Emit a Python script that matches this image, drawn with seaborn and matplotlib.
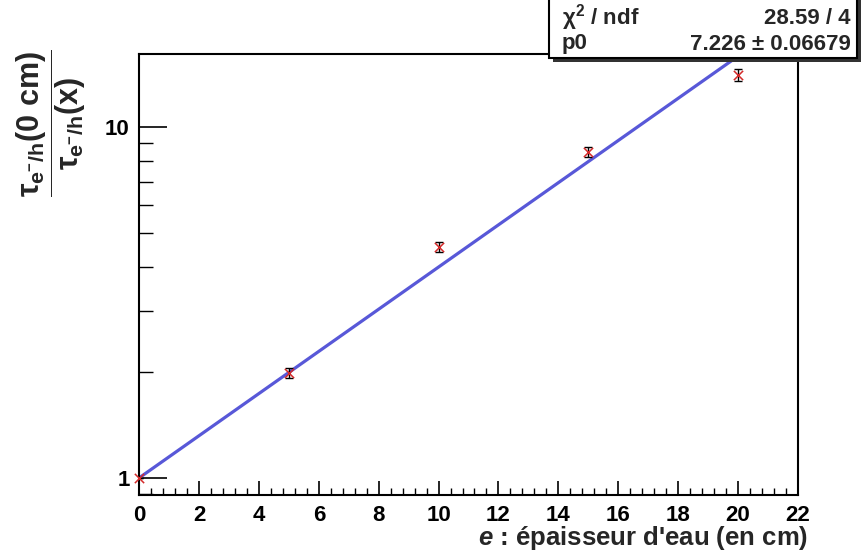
import matplotlib
matplotlib.use("Agg")
import matplotlib.pyplot as plt
import matplotlib.patches as mpatches
import matplotlib.ticker as mticker
import seaborn as sns
import pandas as pd

# ---- data ----
thickness = [0, 5, 10, 15, 20]
ratio = [1.0, 1.99, 4.56, 8.52, 14.1]
ratio_err = [0.0, 0.066, 0.15, 0.28, 0.55]
fit_x = [0, 20]
fit_y = [1.0, 15.95]
x_ticks = [0, 2, 4, 6, 8, 10, 12, 14, 16, 18, 20, 22]
y_ticks = [1, 10]
stats_rows = [(r"$\chi^{2}$ / ndf", "28.59 / 4"), ("p0", "7.226 ± 0.06679")]

sns.set_theme(style="white")
plt.rcParams["font.family"] = ["Liberation Sans", "DejaVu Sans"]
plt.rcParams["font.weight"] = "bold"
plt.rcParams["mathtext.fontset"] = "custom"
plt.rcParams["mathtext.rm"] = "Liberation Sans:bold"
plt.rcParams["mathtext.bf"] = "Liberation Sans:bold"
plt.rcParams["mathtext.it"] = "Liberation Sans:italic:bold"
plt.rcParams["mathtext.default"] = "rm"

W, H = 862, 558
fig = plt.figure(figsize=(W / 100, H / 100), dpi=100)
fig.patch.set_facecolor("white")
L, R, T, B = 139.3, 797.7, 54.3, 495.0
ax = fig.add_axes([L / W, 1 - B / H, (R - L) / W, (B - T) / H])
ax.set_facecolor("white")

df = pd.DataFrame({"x": thickness, "y": ratio})
fit_df = pd.DataFrame({"x": fit_x, "y": fit_y})

ax.set_yscale("log")
sns.lineplot(data=fit_df, x="x", y="y", ax=ax, color="#5858d8", linewidth=2.3, zorder=2)
ax.errorbar(thickness, ratio, yerr=ratio_err, fmt="none", ecolor="black",
            elinewidth=1.0, capsize=3, capthick=1.0, zorder=3)
sns.scatterplot(data=df, x="x", y="y", ax=ax, marker="x", color="#d42a2a",
                s=45, linewidth=1.1, zorder=4, clip_on=False)

ax.set_xlim(0, 22)
ax.set_ylim(0.893, 16.16)
ax.set_xlabel("")
ax.set_ylabel("")

ax.xaxis.set_major_locator(mticker.FixedLocator(x_ticks))
ax.xaxis.set_minor_locator(mticker.MultipleLocator(0.4))
ax.yaxis.set_major_locator(mticker.FixedLocator(y_ticks))
ax.yaxis.set_major_formatter(mticker.FixedFormatter([str(v) for v in y_ticks]))
ax.yaxis.set_minor_locator(mticker.LogLocator(base=10, subs=range(2, 10)))
ax.yaxis.set_minor_formatter(mticker.NullFormatter())

ax.tick_params(axis="x", which="major", direction="in", length=10, width=1.2,
               labelsize=16, pad=7, colors="black", bottom=True, top=False)
ax.tick_params(axis="x", which="minor", direction="in", length=5, width=1.0,
               bottom=True, top=False, colors="black")
ax.tick_params(axis="y", which="major", direction="in", length=20, width=1.2,
               labelsize=16, pad=7, colors="black", left=True, right=False)
ax.tick_params(axis="y", which="minor", direction="in", length=10, width=1.0,
               left=True, right=False, colors="black")
for lab in ax.get_xticklabels() + ax.get_yticklabels():
    lab.set_fontweight("bold")

for sp in ax.spines.values():
    sp.set_color("black")
    sp.set_linewidth(1.5)
    sp.set_visible(True)

# x label (right aligned, below axis)
fig.text(808 / W, 1 - 538 / H, r"$\mathit{e}$ : épaisseur d'eau (en cm)",
         ha="right", va="center", fontsize=18.5, fontweight="bold")

# y label (fraction)
fig.text(51 / W, 1 - 123.5 / H,
         r"$\dfrac{\tau_{e^{-}/h}(0\ cm)}{\tau_{e^{-}/h}(x)}$",
         rotation=90, ha="center", va="center", fontsize=22)

# stats box with shadow
bx0, by0, bx1, by1 = 549, -5, 857, 58
sh = 4
fig.patches.append(mpatches.Rectangle(((bx0 + sh) / W, 1 - (by1 + sh) / H),
                                      (bx1 - bx0) / W, (by1 - by0) / H,
                                      transform=fig.transFigure, facecolor="#333333",
                                      edgecolor="none", zorder=5))
fig.patches.append(mpatches.Rectangle((bx0 / W, 1 - by1 / H),
                                      (bx1 - bx0) / W, (by1 - by0) / H,
                                      transform=fig.transFigure, facecolor="white",
                                      edgecolor="black", linewidth=1.5, zorder=6))
row_y = [18, 44]
for (lbl, val), yy in zip(stats_rows, row_y):
    fig.text(562 / W, 1 - yy / H, lbl, ha="left", va="center", fontsize=16,
             fontweight="bold", zorder=7)
    fig.text(851 / W, 1 - yy / H, val, ha="right", va="center", fontsize=16,
             fontweight="bold", zorder=7)

fig.savefig("out.png", dpi=100, facecolor="white")
